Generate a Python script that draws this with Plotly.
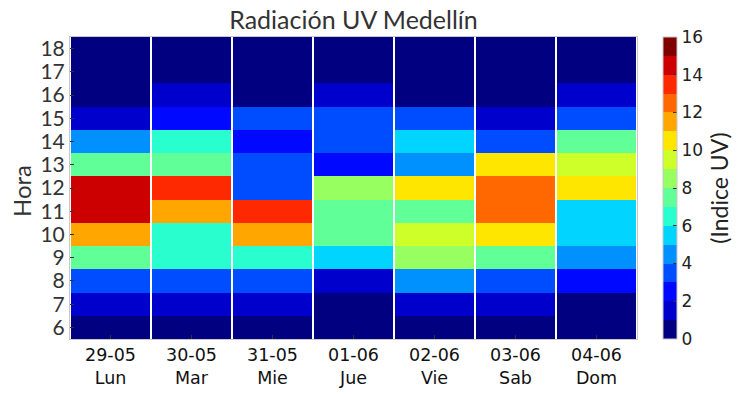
import plotly.graph_objects as go

dias = ["29-05<br>Lun", "30-05<br>Mar", "31-05<br>Mie", "01-06<br>Jue",
        "02-06<br>Vie", "03-06<br>Sab", "04-06<br>Dom"]
horas = [6, 7, 8, 9, 10, 11, 12, 13, 14, 15, 16, 17, 18]

# UV index per day (values listed by hour 6..18)
lun = [0.5, 1.5, 3.5, 7.5, 11.5, 14.5, 14.5, 7.5, 4.5, 1.5, 0.5, 0.5, 0.5]
mar = [0.5, 1.5, 3.5, 6.5, 6.5, 11.5, 13.5, 7.5, 6.5, 2.5, 1.5, 0.5, 0.5]
mie = [0.5, 1.5, 3.5, 6.5, 11.5, 13.5, 3.5, 3.5, 2.5, 3.5, 0.5, 0.5, 0.5]
jue = [0.5, 0.5, 1.5, 5.5, 7.5, 7.5, 8.5, 2.5, 3.5, 3.5, 1.5, 0.5, 0.5]
vie = [0.5, 1.5, 4.5, 8.5, 9.5, 7.5, 10.5, 4.5, 5.5, 3.5, 0.5, 0.5, 0.5]
sab = [0.5, 1.5, 3.5, 7.5, 10.5, 12.5, 12.5, 10.5, 3.5, 1.5, 0.5, 0.5, 0.5]
dom = [0.5, 0.5, 2.5, 4.5, 5.5, 5.5, 10.5, 9.5, 7.5, 3.5, 1.5, 0.5, 0.5]

columnas = [lun, mar, mie, jue, vie, sab, dom]
z = [[col[h] for col in columnas] for h in range(len(horas))]

jet16 = ["#000080", "#0000cd", "#0008ff", "#004cff", "#0091ff", "#00d4ff",
         "#29ffce", "#60ff97", "#97ff60", "#ceff29", "#ffe600", "#ffa700",
         "#ff6800", "#ff2900", "#cd0000", "#800000"]
n = len(jet16)
colorscale = []
for i, c in enumerate(jet16):
    colorscale.append([i / n, c])
    colorscale.append([(i + 1) / n, c])

fig = go.Figure(go.Heatmap(
    x=list(range(len(dias))), y=horas, z=z,
    zmin=0, zmax=16, colorscale=colorscale, xgap=2,
    colorbar=dict(
        x=(663 - 70) / 567, xanchor="left", xpad=0, y=0.5, yanchor="middle",
        len=1, lenmode="fraction", thickness=14, ypad=0,
        outlinecolor="#c8c8c8", outlinewidth=1,
        tickvals=list(range(0, 17, 2)), ticks="inside", ticklen=4,
        tickcolor="#333", tickfont=dict(family="DejaVu Sans", size=17, color="#222"),
        title=dict(text="(Indice UV)", side="right",
                   font=dict(family="Lato", size=23, color="#222")),
    ),
))

fig.update_layout(
    width=743, height=395,
    margin=dict(l=70, r=106, t=37, b=56, autoexpand=False),
    paper_bgcolor="white", plot_bgcolor="white",
    title=dict(text="Radiación UV Medellín", x=(70 + 567 / 2) / 743, xanchor="center",
               y=1 - 20 / 395, yanchor="middle",
               font=dict(family="Lato", size=25, color="#333")),
    xaxis=dict(tickvals=list(range(len(dias))), ticktext=dias, ticks="inside",
               ticklen=4, tickcolor="#333", showgrid=False, zeroline=False,
               showline=True, linecolor="#c8c8c8", linewidth=1, mirror=True,
               range=[-0.5, 6.5], automargin=False,
               tickfont=dict(family="DejaVu Sans", size=17.5, color="#111")),
    yaxis=dict(tickvals=horas, ticks="inside", ticklen=4, tickcolor="#333",
               showgrid=False, zeroline=False, range=[5.5, 18.5], automargin=False,
               showline=True, linecolor="#c8c8c8", linewidth=1, mirror=True,
               tickfont=dict(family="Lato", size=21, color="#333")),
    annotations=[dict(text="Hora", textangle=-90, showarrow=False,
                      xref="paper", yref="paper",
                      x=(22 - 70) / 567, y=(339 - 191) / 302,
                      xanchor="center", yanchor="middle",
                      font=dict(family="Lato", size=24, color="#333"))],
)

fig.write_html("out.html", config={"displayModeBar": False},
               post_script="document.body.style.margin='0';document.body.style.overflow='hidden';")
